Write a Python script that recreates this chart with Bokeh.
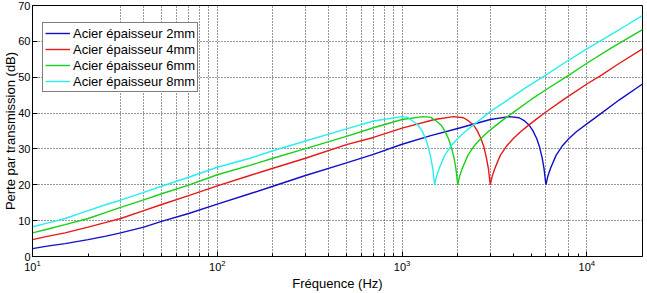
from bokeh.plotting import figure
from bokeh.models import Range1d, FixedTicker, LogTickFormatter
from bokeh.embed import file_html
from bokeh.resources import INLINE

# Transmission loss of steel plates (dB) versus frequency (Hz)
freq_2mm = [10, 12, 15, 20, 25, 30, 40, 50, 70, 100, 150, 200, 300, 500, 700, 1000, 1430, 2000,
            3000, 3800, 4300, 4600, 4880, 5100, 5350, 5540, 5730, 5860, 6000, 6140,
            6360, 6810, 7380, 8000, 8770, 10000, 12000, 15000, 20000]
tl_2mm = [2.2, 2.9, 3.6, 4.7, 5.7, 6.6, 8.2, 9.8, 12.0, 14.6, 17.5, 19.6, 22.6, 26.1, 28.5, 31.3, 33.7, 35.7,
          38.2, 39.0, 38.7, 37.8, 36.6, 35.1, 32.9, 30.6, 27.5, 24.6, 20.0, 22.3,
          24.6, 28.2, 30.9, 32.9, 34.8, 37.0, 40.0, 43.7, 48.1]

freq_4mm = [10, 12, 15, 20, 25, 30, 40, 50, 70, 100, 150, 200, 300, 500, 700, 1000, 1500, 1900,
            2150, 2290, 2440, 2550, 2670, 2770, 2860, 2930, 3000, 3070, 3180, 3400,
            3690, 4000, 4380, 4750, 5330, 6000, 7500, 10000, 12000, 15000, 20000]
tl_4mm = [4.7, 5.6, 6.6, 8.2, 9.5, 10.6, 12.8, 14.5, 17.0, 19.7, 22.6, 24.6, 27.4, 31.2, 33.2, 35.8, 38.2, 39.0,
          38.7, 37.8, 36.6, 35.1, 32.9, 30.6, 27.5, 24.6, 20.0, 22.3, 24.6, 28.2,
          30.9, 32.9, 34.8, 36.3, 38.3, 40.3, 43.8, 48.1, 50.6, 53.9, 57.9]

freq_6mm = [10, 12, 15, 20, 25, 30, 40, 50, 70, 100, 150, 200, 300, 500, 700, 1000, 1300, 1430,
            1530, 1630, 1700, 1780, 1860, 1910, 1955, 2000, 2045, 2120, 2270, 2460,
            2670, 2920, 3170, 3560, 4000, 5000, 6000, 8000, 10000, 13300, 20000]
tl_6mm = [6.6, 7.6, 8.9, 10.6, 12.3, 13.7, 15.8, 17.5, 19.9, 22.8, 25.4, 27.4, 30.1, 33.5, 35.9, 38.2, 39.0, 38.8,
          37.8, 36.6, 35.1, 32.9, 30.0, 27.5, 24.6, 20.0, 22.3, 24.6, 28.2, 30.9,
          32.9, 34.8, 36.3, 38.3, 40.2, 43.8, 46.5, 50.6, 53.9, 57.9, 63.3]

freq_8mm = [10, 12, 15, 20, 25, 30, 40, 50, 70, 100, 150, 200, 300, 500, 700, 1000, 1070, 1140,
            1220, 1280, 1340, 1390, 1430, 1465, 1500, 1535, 1590, 1700, 1845, 2000,
            2190, 2380, 2670, 3000, 3770, 4740, 6000, 7500, 10000, 15000, 20000]
tl_8mm = [8.3, 9.3, 10.6, 12.8, 14.5, 15.7, 17.9, 19.6, 22.1, 24.9, 27.4, 29.5, 32.2, 35.6, 37.8, 39.0, 38.8, 37.8,
          36.6, 35.1, 32.9, 30.3, 27.5, 24.6, 20.0, 22.3, 24.6, 28.2, 30.9, 32.9,
          34.8, 36.3, 38.3, 40.4, 43.8, 47.3, 50.6, 53.9, 57.9, 63.3, 67.2]

series_labels = ["Acier épaisseur 2mm", "Acier épaisseur 4mm",
                 "Acier épaisseur 6mm", "Acier épaisseur 8mm"]
series_colors = ["#1010c8", "#e81818", "#18d018", "#28eeee"]

# Axis ticks and grid positions
x_major = [10, 100, 1000, 10000]
x_minor = [20, 30, 40, 50, 60, 70, 80, 90,
           200, 300, 400, 500, 600, 700, 800, 900,
           2000, 3000, 4000, 5000, 6000, 7000, 8000, 9000]
x_grid = [30, 40, 50, 60, 70, 80, 90, 100, 200, 300, 400, 500, 600, 700, 800, 900,
          1000, 2000, 3000, 6000, 8000, 10000]
y_ticks = [0, 10, 20, 30, 40, 50, 60, 70]
y_grid = [10, 20, 30, 40, 50, 60]

FONT = "Liberation Sans"

p = figure(width=647, height=293, x_axis_type="log",
           x_range=Range1d(10, 20000), y_range=Range1d(0, 70),
           output_backend="svg", toolbar_location=None,
           min_border_left=32, min_border_right=5,
           min_border_top=5, min_border_bottom=36)

p.background_fill_color = "white"
p.border_fill_color = "white"
p.outline_line_color = "black"
p.outline_line_width = 1

# x axis
p.xaxis.ticker = FixedTicker(ticks=x_major, minor_ticks=x_minor)
p.xaxis.formatter = LogTickFormatter()
p.xaxis.axis_label = "Fréquence (Hz)"
# y axis
p.yaxis.ticker = FixedTicker(ticks=y_ticks)
p.yaxis.axis_label = "Perte par transmission (dB)"
p.yaxis.minor_tick_line_color = None

for ax in (p.xaxis, p.yaxis):
    ax.axis_line_color = "black"
    ax.major_tick_line_color = "black"
    ax.major_tick_in = 5
    ax.major_tick_out = 0
    ax.minor_tick_in = 3
    ax.minor_tick_out = 0
    ax.major_label_text_font = FONT
    ax.major_label_text_font_size = "11px"
    ax.major_label_text_color = "black"
    ax.axis_label_text_font = FONT
    ax.axis_label_text_font_size = "13px"
    ax.axis_label_text_font_style = "normal"
    ax.axis_label_text_color = "black"
p.xaxis.major_label_standoff = 3
p.xaxis.axis_label_standoff = 2
p.yaxis.major_label_standoff = 2
p.yaxis.axis_label_standoff = -3

# dotted grid
p.xgrid.ticker = FixedTicker(ticks=x_grid)
p.ygrid.ticker = FixedTicker(ticks=y_grid)
for g in (p.xgrid, p.ygrid):
    g.grid_line_color = "#303030"
    g.grid_line_dash = "1 2"
    g.grid_line_width = 1

all_freq = [freq_2mm, freq_4mm, freq_6mm, freq_8mm]
all_tl = [tl_2mm, tl_4mm, tl_6mm, tl_8mm]
for f, tl, lab, col in zip(all_freq, all_tl, series_labels, series_colors):
    p.line(f, tl, line_color=col, line_width=1.4, legend_label=lab)

lg = p.legend[0]
lg.location = (10, 164)
lg.border_line_color = "black"
lg.border_line_width = 1
lg.background_fill_color = "white"
lg.background_fill_alpha = 1
lg.padding = 2
lg.spacing = 0
lg.margin = 0
lg.glyph_width = 25
lg.glyph_height = 16
lg.label_height = 16
lg.label_standoff = 3
lg.label_text_font = FONT
lg.label_text_font_size = "13px"
lg.label_text_color = "black"

open("out.html", "w").write(file_html(p, INLINE))
